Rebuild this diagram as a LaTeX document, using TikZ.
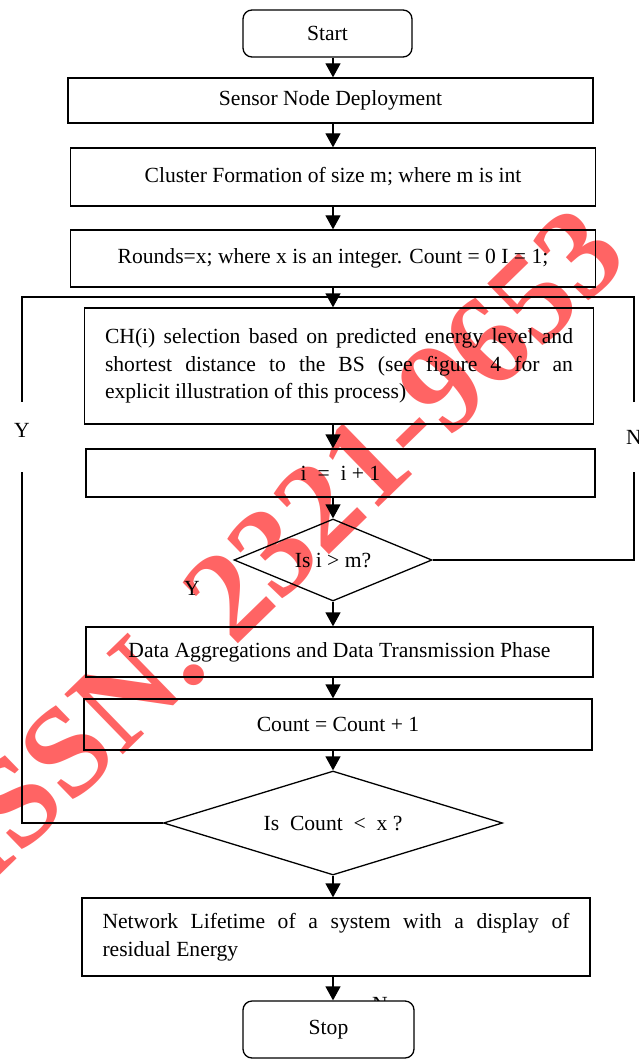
\documentclass[tikz,border=0pt]{standalone}
\usepackage{fontspec}
\setmainfont{Liberation Serif}
\usetikzlibrary{arrows.meta,shapes.geometric}
\definecolor{wm}{RGB}{255,100,100}
\begin{document}
\begin{tikzpicture}[x=1pt,y=-1pt,
  font=\fontsize{21.6}{27.5}\selectfont,
  box/.style={draw, line width=1.3pt, inner sep=0pt, align=center},
  jbox/.style={draw, line width=1.3pt, inner xsep=20.5pt, inner ysep=0pt, align=justify},
  term/.style={draw, line width=1.3pt, rounded corners=9pt, fill=white, inner sep=0pt},
  dec/.style={draw, diamond, line width=1.3pt, inner sep=0pt},
  arr/.style={line width=1.3pt, -{Triangle[width=15pt,length=14pt]}},
  loopline/.style={line width=1.2pt},
  lab/.style={inner sep=0pt}]
\useasboundingbox (0,0) rectangle (639,1059);
\begin{scope}
\clip (0,0) rectangle (639,1059);
\node[rotate=44.2, anchor=base west, text=wm, font=\fontsize{128}{128}\selectfont\bfseries, inner sep=0pt] (wmk) at (-16,891) {ISSN. 2321-9653};
\end{scope}

\coordinate (ax) at (333,0);
\node[term, minimum width=169pt, minimum height=47pt] (start) at (327.5,33.5) {Start};
\node[box, minimum width=525pt, minimum height=45pt] (sensor) at (330.5,100.5) {Sensor Node Deployment};
\node[box, minimum width=525pt, minimum height=58pt] (cluster) at (333,177) {Cluster Formation of size m; where m is int};
\node[box, minimum width=525pt, minimum height=57pt] (rounds) at (333,258.5) {Rounds=x; where x is an integer. Count = 0 I = 1;};
\node[jbox, text width=468pt, minimum height=116pt] (ch) at (339,366) {CH(i) selection based on predicted energy level and\linebreak shortest distance to the BS (see figure 4 for an\linebreak explicit illustration of this process)};
\node[box, minimum width=509pt, minimum height=48pt] (inc) at (340.5,473) {i~~=~~i + 1};
\node[dec, aspect=2.4, minimum width=198pt, minimum height=82pt] (d1) at (333,560) {Is i > m?};
\node[box, minimum width=507pt, minimum height=50pt] (data) at (339.5,652) {Data Aggregations and Data Transmission Phase};
\node[box, minimum width=508pt, minimum height=51pt] (cnt) at (338,724.5) {Count = Count + 1};
\node[dec, aspect=3.26, minimum width=339pt, minimum height=104pt] (d2) at (333,823) {Is~~Count~~<~~x ?};
\node[jbox, text width=467pt, minimum height=78pt] (net) at (336,937) {Network Lifetime of a system with a display of\linebreak residual Energy};
\node[lab] (nstop) at (380,1004) {N};
\node[term, minimum width=171pt, minimum height=57pt] (stop) at (328.5,1029.5) {Stop};

\node[lab] (ylab) at (22,430) {Y};
\node[lab] (nlab) at (634,437) {N};
\node[lab] (y2) at (192,588) {Y};

\coordinate (tl) at (22,297);
\coordinate (tr) at (634,297);
\coordinate (lhigh) at (22,402);
\coordinate (llow) at (22,472);
\coordinate (rhigh) at (634,402);
\coordinate (rlow) at (634,472);

\draw[loopline] (d1.east) -| (rlow);
\draw[loopline] (rhigh) -- (tr) -- (tl) -- (lhigh);
\draw[loopline] (d2.west) -| (llow);

\draw[arr] (start.south -| ax) -- (sensor.north -| ax);
\draw[arr] (sensor.south -| ax) -- (cluster.north -| ax);
\draw[arr] (cluster.south -| ax) -- (rounds.north -| ax);
\draw[arr] (rounds.south -| ax) -- (ch.north -| ax);
\draw[arr] (ch.south -| ax) -- (inc.north -| ax);
\draw[arr] (inc.south -| ax) -- (d1.north);
\draw[arr] (d1.south) -- (data.north -| ax);
\draw[arr] (data.south -| ax) -- (cnt.north -| ax);
\draw[arr] (cnt.south -| ax) -- (d2.north);
\draw[arr] (d2.south) -- (net.north -| ax);
\draw[arr] (net.south -| ax) -- (stop.north -| ax);
\end{tikzpicture}
\end{document}
